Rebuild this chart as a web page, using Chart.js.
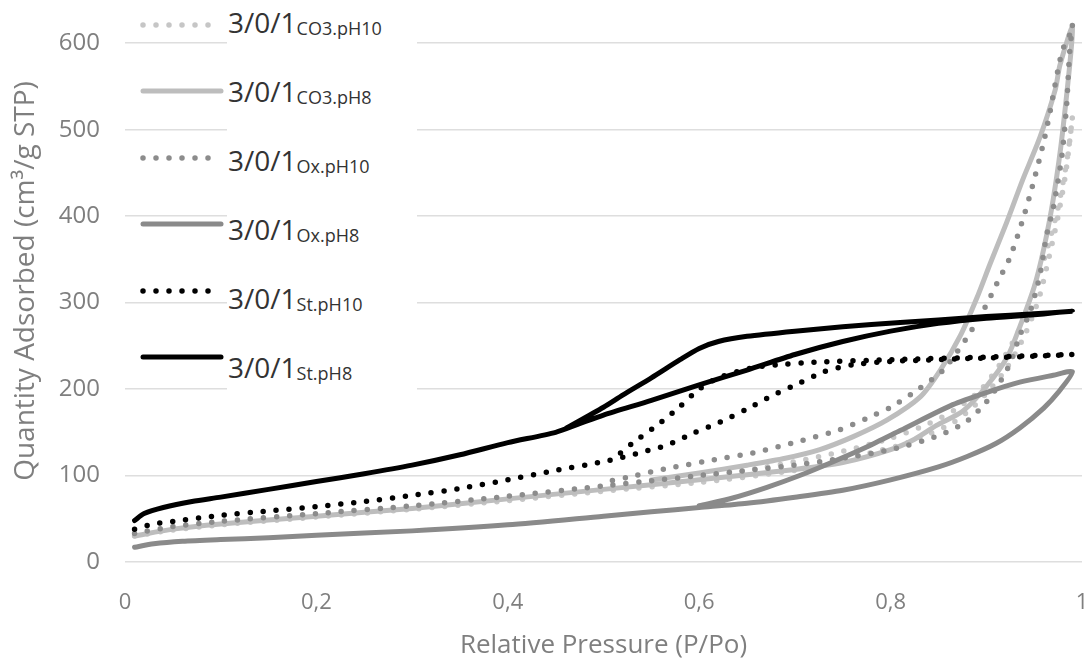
<!DOCTYPE html>
<html>
<head>
<meta charset="utf-8">
<title>N2 isotherms 3/0/1</title>
<script src="https://cdn.jsdelivr.net/npm/chart.js@4.4.1/dist/chart.umd.min.js"></script>
<style>
    html, body { margin: 0; padding: 0; background: #fff; }
    #wrap { position: relative; width: 1089px; height: 662px; overflow: hidden; }
    #legend { position: absolute; left: 0; top: 0; width: 420px; height: 400px; }
    #legend .cover { position: absolute; left: 227px; top: 0; width: 190px; height: 395px; background: #fff; }
    #legend svg { position: absolute; left: 136px; }
    #legend .name { position: absolute; left: 228px; font-family: 'Open Sans', sans-serif; font-size: 28px; line-height: 28px; color: #333; white-space: nowrap; }
    #legend .name span { font-size: 18px; vertical-align: -2px; }
</style>
</head>
<body>
<div id="wrap">
    <canvas id="chart" width="1089" height="662"></canvas>
    <div id="legend"><div class="cover"></div></div>
</div>
<script>
'use strict';

var xTickLabels = ['0', '0,2', '0,4', '0,6', '0,8', '1'];
var samplePrefix = '3/0/1';
var sampleTags = ['CO3.pH10', 'CO3.pH8', 'Ox.pH10', 'Ox.pH8', 'St.pH10', 'St.pH8'];

// each isotherm: adsorption branch up to P/Po 0.99, then desorption back down
var co3Ph10P = [0.01, 0.05, 0.1, 0.2, 0.3, 0.4, 0.5, 0.6, 0.7, 0.75, 0.778, 0.81, 0.838, 0.865, 0.886, 0.9, 0.92, 0.94, 0.955, 0.965, 0.975, 0.983, 0.99,
    0.985, 0.975, 0.963, 0.95, 0.935, 0.915, 0.895, 0.87, 0.84, 0.8, 0.75, 0.7, 0.65, 0.6, 0.55, 0.5];
var co3Ph10Q = [30, 37, 43, 52, 61, 71, 82, 92, 106, 118, 126, 135, 147, 161, 179, 195, 222, 262, 305, 350, 400, 450, 515,
    470, 410, 360, 315, 270, 230, 200, 178, 160, 143, 128, 116, 106, 98, 90, 84];

var co3Ph8P = [0.01, 0.05, 0.1, 0.2, 0.3, 0.4, 0.5, 0.6, 0.7, 0.75, 0.8, 0.825, 0.848, 0.876, 0.9, 0.922, 0.935, 0.95, 0.96, 0.97, 0.98, 0.99,
    0.977, 0.972, 0.956, 0.938, 0.921, 0.904, 0.89, 0.873, 0.852, 0.831, 0.796, 0.761, 0.726, 0.69, 0.65, 0.6, 0.55];
var co3Ph8Q = [30, 38, 44, 53, 62, 73, 84, 95, 107, 115, 130, 142, 158, 175, 203, 237, 272, 318, 362, 420, 500, 618,
    575, 546, 491, 442, 392, 345, 305, 262, 222, 191, 164, 145, 130, 120, 112, 103, 95];

var oxPh10P = [0.01, 0.05, 0.1, 0.2, 0.3, 0.4, 0.5, 0.55, 0.6, 0.65, 0.7, 0.75, 0.8, 0.85, 0.88, 0.9, 0.911, 0.925, 0.935, 0.946, 0.956, 0.963, 0.97, 0.979, 0.984, 0.987, 0.99,
    0.988, 0.979, 0.967, 0.96, 0.948, 0.939, 0.925, 0.911, 0.897, 0.88, 0.855, 0.828, 0.8, 0.775, 0.747, 0.702, 0.66, 0.615, 0.57, 0.525, 0.5];
var oxPh10Q = [33, 41, 47, 56, 65, 76, 88, 94, 100, 106, 112, 120, 130, 146, 163, 185, 202, 230, 262, 290, 332, 378, 410, 470, 530, 588, 622,
    612, 590, 523, 486, 434, 399, 353, 322, 291, 260, 222, 199, 179, 166, 153, 139, 127, 118, 109, 98, 92];

var oxPh8P = [0.01, 0.03, 0.06, 0.1, 0.15, 0.2, 0.3, 0.4, 0.5, 0.55, 0.6, 0.65, 0.7, 0.75, 0.8, 0.85, 0.88, 0.91, 0.935, 0.96, 0.975, 0.99,
    0.97, 0.935, 0.9, 0.865, 0.81, 0.775, 0.74, 0.705, 0.67, 0.635, 0.6];
var oxPh8Q = [17, 21, 24, 26, 28, 31, 36, 43, 53, 58, 63, 68, 75, 83, 95, 110, 122, 137, 155, 178, 196, 220,
    216, 208, 196, 182, 152, 133, 116, 100, 86, 74, 65];

var stPh10P = [0.01, 0.03, 0.05, 0.1, 0.15, 0.2, 0.25, 0.3, 0.35, 0.4, 0.45, 0.5, 0.52, 0.54, 0.566, 0.594, 0.622, 0.65, 0.677, 0.705, 0.73, 0.76, 0.8, 0.85, 0.9, 0.95, 0.99,
    0.9, 0.8, 0.72, 0.68, 0.653, 0.62, 0.6, 0.58, 0.556, 0.532, 0.51];
var stPh10Q = [38, 44, 47, 54, 59, 64, 70, 77, 85, 95, 106, 116, 121, 127, 135, 149, 162, 177, 193, 207, 220, 228, 232, 234, 236, 238, 240,
    237, 234, 231, 228, 224, 213, 200, 180, 158, 139, 119];

var stPh8P = [0.01, 0.02, 0.04, 0.07, 0.1, 0.15, 0.2, 0.25, 0.3, 0.35, 0.4, 0.45, 0.475, 0.5, 0.55, 0.6, 0.65, 0.7, 0.75, 0.8, 0.85, 0.9, 0.95, 0.99,
    0.95, 0.9, 0.85, 0.81, 0.75, 0.7, 0.65, 0.62, 0.6, 0.58, 0.55, 0.52, 0.5, 0.46];
var stPh8Q = [48, 56, 63, 70, 75, 84, 93, 102, 112, 124, 138, 150, 160, 170, 187, 205, 222, 240, 255, 267, 276, 282, 286, 290,
    287, 284, 280, 277, 272, 267, 261, 255, 247, 234, 213, 193, 179, 154];

var yTicks = [0, 100, 200, 300, 400, 500, 600];

var series = [
    { p: co3Ph10P, q: co3Ph10Q, color: '#c6c6c6', dotted: true },
    { p: co3Ph8P, q: co3Ph8Q, color: '#bdbdbd', dotted: false },
    { p: oxPh10P, q: oxPh10Q, color: '#8c8c8c', dotted: true },
    { p: oxPh8P, q: oxPh8Q, color: '#8a8a8a', dotted: false },
    { p: stPh10P, q: stPh10Q, color: '#000000', dotted: true },
    { p: stPh8P, q: stPh8Q, color: '#000000', dotted: false }
];

var toPoints = function (p, q) {
    return p.map(function (x, i) {
        return { x: x, y: q[i] };
    });
};

var datasets = series.map(function (s, i) {
    return {
        label: samplePrefix + ' ' + sampleTags[i],
        data: toPoints(s.p, s.q),
        showLine: true,
        borderColor: s.color,
        borderWidth: s.dotted ? 5.5 : 5,
        borderDash: s.dotted ? [0, 13] : [],
        borderCapStyle: 'round',
        borderJoinStyle: 'round',
        pointRadius: 0,
        tension: 0.25,
        // black curves end up on top of the grey ones
        order: sampleTags.length - i
    };
});

var greyText = '#7f7f7f';

new Chart(document.getElementById('chart'), {
    type: 'scatter',
    data: { datasets: datasets },
    options: {
        responsive: false,
        animation: false,
        events: [],
        layout: { padding: 0 },
        plugins: {
            legend: { display: false },
            tooltip: { enabled: false }
        },
        scales: {
            x: {
                type: 'linear',
                min: 0,
                max: 1,
                grid: { display: false },
                border: { display: false },
                ticks: {
                    stepSize: 0.2,
                    padding: 20,
                    maxRotation: 0,
                    color: greyText,
                    font: { family: 'Open Sans', size: 22 },
                    callback: function (v) {
                        return xTickLabels[Math.round(v * 5)];
                    }
                },
                title: {
                    display: true,
                    text: 'Relative Pressure (P/Po)',
                    color: greyText,
                    font: { family: 'Open Sans', size: 26 },
                    padding: { top: 0, bottom: 1 }
                },
                afterFit: function (scale) {
                    scale.height = 100;
                    scale.paddingLeft = 0;
                    scale.paddingRight = 7;
                }
            },
            y: {
                min: 0,
                max: 650,
                grid: { color: '#dedede', lineWidth: 1.5, drawTicks: false },
                border: { display: false },
                ticks: {
                    stepSize: 100,
                    padding: 25,
                    color: greyText,
                    font: { family: 'Open Sans', size: 24 }
                },
                afterBuildTicks: function (scale) {
                    scale.ticks = yTicks.map(function (v) {
                        return { value: v };
                    });
                },
                title: {
                    display: true,
                    text: 'Quantity Adsorbed (cm³/g STP)',
                    color: greyText,
                    font: { family: 'Open Sans', size: 28 },
                    padding: { top: 9, bottom: 0 }
                },
                afterFit: function (scale) {
                    scale.width = 125;
                    scale.paddingTop = 0;
                    scale.paddingBottom = 0;
                }
            }
        }
    }
});

// legend with subscripted sample tags, line swatches drawn as svg
var legend = document.getElementById('legend');
series.forEach(function (s, i) {
    var lineY = 25 + i * 66.4;
    var textMid = 23 + i * 69;
    var svgNs = 'http://www.w3.org/2000/svg';
    var svg = document.createElementNS(svgNs, 'svg');
    svg.setAttribute('width', '92');
    svg.setAttribute('height', '14');
    svg.style.top = (lineY - 7) + 'px';
    var line = document.createElementNS(svgNs, 'line');
    line.setAttribute('x1', '7');
    line.setAttribute('x2', '85');
    line.setAttribute('y1', '7');
    line.setAttribute('y2', '7');
    line.setAttribute('stroke', s.color);
    line.setAttribute('stroke-width', s.dotted ? '5.5' : '5');
    line.setAttribute('stroke-linecap', 'round');
    if (s.dotted) {
        line.setAttribute('stroke-dasharray', '0 13');
    }
    svg.appendChild(line);
    legend.appendChild(svg);

    var name = document.createElement('div');
    name.className = 'name';
    name.style.top = (textMid - 15) + 'px';
    name.appendChild(document.createTextNode(samplePrefix));
    var tag = document.createElement('span');
    tag.textContent = sampleTags[i];
    name.appendChild(tag);
    legend.appendChild(name);
});
</script>
</body>
</html>
